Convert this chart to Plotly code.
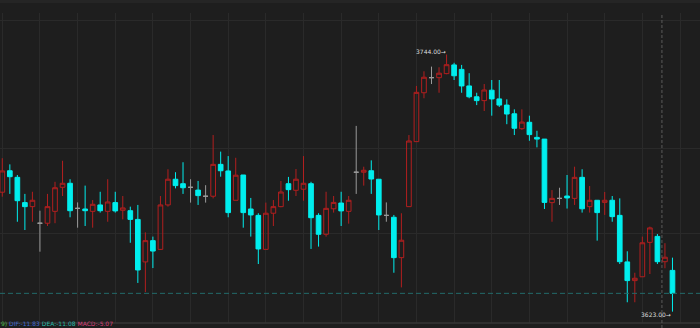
import plotly.graph_objects as go

# ---- data ----
OPEN = [3679.2, 3689.3, 3686.2, 3674.3, 3672.4, 3664.6, 3664.6, 3670.2, 3681.5, 3683.4,
        3671.6, 3671.3, 3670.2, 3673.2, 3670.2, 3674.3, 3670.7, 3670.5, 3666.4, 3646.4,
        3656.4, 3652.3, 3673.2, 3685.3, 3683.2, 3681.5, 3680.2, 3677.3, 3677.3, 3692.3,
        3689.2, 3675.4, 3687.3, 3671.3, 3668.3, 3652.3, 3669.3, 3672.4, 3683.2, 3680.1,
        3680.6, 3683.2, 3668.3, 3659.4, 3671.4, 3674.1, 3670.2, 3688.6, 3688.6, 3689.3,
        3685.3, 3668.3, 3667.4, 3648.4, 3672.4, 3703.0, 3726.0, 3733.1, 3733.1, 3735.0,
        3739.1, 3737.0, 3729.2, 3724.1, 3722.3, 3727.2, 3723.1, 3720.2, 3716.1, 3709.1,
        3712.1, 3705.0, 3704.2, 3674.3, 3676.3, 3677.4, 3676.3, 3686.2, 3672.4, 3675.4,
        3674.4, 3675.4, 3668.3, 3646.4, 3637.6, 3639.4, 3655.6, 3658.4, 3646.5, 3642.4]
HIGH = [3695.2, 3692.3, 3687.3, 3678.4, 3679.4, 3670.5, 3678.4, 3684.1, 3694.0, 3685.3,
        3674.4, 3682.3, 3675.5, 3679.4, 3685.3, 3679.4, 3677.4, 3672.4, 3673.2, 3660.3,
        3658.3, 3677.4, 3690.0, 3688.6, 3693.3, 3685.3, 3684.5, 3682.5, 3706.1, 3698.3,
        3696.2, 3695.4, 3687.3, 3676.5, 3669.3, 3674.3, 3675.5, 3684.5, 3686.4, 3690.1,
        3696.2, 3684.1, 3669.3, 3679.4, 3677.4, 3679.4, 3677.4, 3710.4, 3691.2, 3694.2,
        3685.3, 3674.4, 3668.5, 3669.3, 3706.1, 3729.2, 3736.1, 3738.3, 3738.0, 3744.0,
        3740.1, 3739.1, 3735.2, 3726.0, 3730.1, 3732.0, 3732.0, 3722.9, 3718.2, 3718.2,
        3715.2, 3708.1, 3704.2, 3680.2, 3681.3, 3687.3, 3691.2, 3690.0, 3682.1, 3675.4,
        3679.3, 3677.4, 3676.3, 3651.4, 3641.3, 3658.3, 3663.0, 3659.5, 3655.2, 3648.4]
LOW = [3677.1, 3678.4, 3665.3, 3661.4, 3665.3, 3651.2, 3663.3, 3664.6, 3677.4, 3667.4,
       3662.5, 3663.3, 3662.5, 3669.6, 3665.3, 3669.6, 3666.4, 3655.4, 3636.5, 3632.2,
       3643.5, 3652.0, 3672.4, 3681.0, 3678.4, 3674.3, 3673.2, 3674.3, 3676.3, 3686.5,
       3667.4, 3675.4, 3662.5, 3658.3, 3645.4, 3652.3, 3663.3, 3672.1, 3675.2, 3677.4,
       3675.2, 3652.5, 3653.6, 3658.3, 3669.6, 3663.3, 3664.4, 3678.4, 3682.3, 3678.4,
       3661.4, 3665.3, 3641.3, 3634.4, 3672.4, 3703.0, 3723.4, 3730.1, 3726.0, 3734.7,
       3732.0, 3726.0, 3723.4, 3720.2, 3717.4, 3715.2, 3719.3, 3711.2, 3706.1, 3708.5,
       3703.4, 3700.3, 3671.3, 3665.3, 3673.2, 3671.5, 3673.2, 3669.6, 3669.6, 3656.4,
       3668.5, 3665.3, 3645.4, 3627.4, 3627.4, 3639.4, 3640.7, 3645.4, 3643.4, 3623.0]
CLOSE = [3689.2, 3686.5, 3675.2, 3672.4, 3675.4, 3664.6, 3672.4, 3681.3, 3683.4, 3670.5,
         3671.6, 3670.5, 3673.5, 3670.5, 3674.6, 3670.4, 3671.8, 3666.4, 3642.6, 3656.4,
         3651.5, 3673.2, 3685.3, 3682.3, 3681.3, 3681.5, 3677.6, 3677.3, 3692.3, 3689.3,
         3669.6, 3687.2, 3669.6, 3668.5, 3652.5, 3669.3, 3672.4, 3679.3, 3680.4, 3685.3,
         3683.4, 3667.2, 3659.4, 3671.6, 3674.4, 3670.4, 3675.4, 3688.6, 3689.5, 3685.4,
         3668.5, 3668.3, 3648.4, 3656.6, 3703.3, 3726.2, 3733.3, 3733.1, 3735.2, 3739.2,
         3734.0, 3729.2, 3724.1, 3722.3, 3727.3, 3723.1, 3720.2, 3716.0, 3709.3, 3712.2,
         3706.3, 3704.2, 3674.4, 3676.3, 3676.3, 3676.5, 3686.2, 3671.4, 3675.4, 3669.6,
         3675.4, 3667.7, 3646.5, 3637.6, 3638.7, 3655.4, 3662.4, 3646.5, 3648.6, 3631.6]

GRID_PRICES = [3660, 3700, 3760]
MACD_NAMES = ["9)", "DIF:", "DEA:", "MACD:"]
MACD_VALUES = [None, -11.83, -11.08, -5.07]

# ---- styles ----
BG = "#1e1e1e"
GRID = "#2a2a2a"
UP = "#b21f1f"
DOWN = "#00eeee"
DOJI = "#9a9a9a"
MACD_COLORS = ["#46b946", "#3f68d2", "#25b9a8", "#d8407a"]
FONT = "DejaVu Sans"

W, H = 700, 328
SPACING = 7.53
FIRST_X = 2.3
X_RANGE = [-FIRST_X / SPACING, (W - FIRST_X) / SPACING]
PLOT_TOP_PX, PLOT_BOT_PX = 13, 323
REF_PRICE, REF_PX, PX_PER_PT = 3700, 148, 2.125
Y_RANGE = [REF_PRICE - (PLOT_BOT_PX - REF_PX) / PX_PER_PT,
           REF_PRICE + (REF_PX - PLOT_TOP_PX) / PX_PER_PT]
CROSSHAIR_X = 87.6

idx = list(range(len(OPEN)))
groups = {"up": [], "down": [], "doji": []}
for i in idx:
    if CLOSE[i] > OPEN[i]:
        groups["up"].append(i)
    elif CLOSE[i] < OPEN[i]:
        groups["down"].append(i)
    else:
        groups["doji"].append(i)


def candle(sel, line_color, fill_color):
    return go.Candlestick(
        x=[i for i in sel],
        open=[OPEN[i] for i in sel],
        high=[HIGH[i] for i in sel],
        low=[LOW[i] for i in sel],
        close=[CLOSE[i] for i in sel],
        increasing=dict(line=dict(color=line_color, width=1), fillcolor=fill_color),
        decreasing=dict(line=dict(color=line_color, width=1), fillcolor=fill_color),
        whiskerwidth=0,
        hoverinfo="skip",
        showlegend=False,
    )


fig = go.Figure()
fig.add_trace(candle(groups["doji"], DOJI, DOJI))
fig.add_trace(candle(groups["up"], UP, "rgba(0,0,0,0)"))
fig.add_trace(candle(groups["down"], DOWN, DOWN))

y_bot = 1 - PLOT_BOT_PX / H
y_top = 1 - PLOT_TOP_PX / H

shapes = [
    # header strip
    dict(type="rect", xref="paper", yref="paper", x0=0, x1=1, y0=1 - 3 / H, y1=1,
         fillcolor="#252525", line=dict(width=0), layer="below"),
    # separator to the indicator pane
    dict(type="line", xref="paper", yref="paper", x0=0, x1=1, y0=y_bot, y1=y_bot,
         line=dict(color="#363636", width=1.5)),
    # last price line
    dict(type="line", xref="paper", yref="y", x0=0, x1=1, y0=CLOSE[-1], y1=CLOSE[-1],
         line=dict(color="#236b6b", width=1, dash="5px,3px")),
    # crosshair
    dict(type="line", xref="x", yref="paper", x0=CROSSHAIR_X, x1=CROSSHAIR_X, y0=0, y1=y_top,
         line=dict(color="#5a5a5a", width=1, dash="3px,2px")),
]

hi = max(HIGH)
hi_i = HIGH.index(hi)
lo = min(LOW)
lo_i = LOW.index(lo)
annotations = [
    dict(x=hi_i, y=hi, xref="x", yref="y", text=f"{hi:.2f}→", showarrow=False,
         xanchor="right", yanchor="middle", yshift=3, xshift=1,
         font=dict(family=FONT, size=6, color="#dddddd")),
    dict(x=lo_i, y=lo, xref="x", yref="y", text=f"{lo:.2f}→", showarrow=False,
         xanchor="right", yanchor="middle", yshift=-3, xshift=1,
         font=dict(family=FONT, size=6, color="#dddddd")),
]

parts = []
for name, val, col in zip(MACD_NAMES, MACD_VALUES, MACD_COLORS):
    txt = name if val is None else f"{name}{val:.2f}"
    parts.append(f"<span style='color:{col}'>{txt}</span>")
annotations.append(dict(x=0, y=0, xref="paper", yref="paper",
                        text=" ".join(parts), showarrow=False, xanchor="left", yanchor="bottom",
                        font=dict(family=FONT, size=6), xshift=-1, yshift=-1))

fig.update_layout(
    width=W, height=H,
    margin=dict(l=0, r=0, t=0, b=0),
    paper_bgcolor=BG, plot_bgcolor=BG,
    boxgap=0.38, boxgroupgap=0,
    showlegend=False,
    shapes=shapes,
    annotations=annotations,
    xaxis=dict(range=X_RANGE, rangeslider=dict(visible=False), showticklabels=False,
               tickvals=list(range(0, 95, 5)), showgrid=True, gridcolor=GRID, gridwidth=1,
               zeroline=False, ticks="", showline=False, fixedrange=True),
    yaxis=dict(range=Y_RANGE, domain=[y_bot, y_top], showticklabels=False,
               tickvals=GRID_PRICES, showgrid=True, gridcolor=GRID, gridwidth=1,
               zeroline=False, ticks="", showline=False, fixedrange=True),
)

fig.write_html("out.html")
